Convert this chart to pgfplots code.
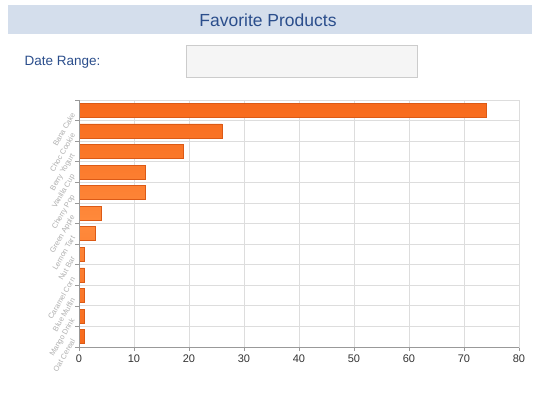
\documentclass[border=0pt]{standalone}
\usepackage{pgfplots}
\pgfplotsset{compat=1.18}
\usepackage{fontspec}
\setmainfont{Liberation Sans}
\definecolor{banner}{HTML}{D4DEEC}
\definecolor{titleblue}{HTML}{2B4E8C}
\definecolor{boxfill}{HTML}{F5F5F5}
\definecolor{boxdraw}{HTML}{CCCCCC}
\definecolor{barfill}{HTML}{F76A1C}
\definecolor{barlight}{HTML}{FF8A3C}
\definecolor{baredge}{HTML}{DC5A16}
\definecolor{gridc}{HTML}{DDDDDD}
\definecolor{axisc}{HTML}{999999}
\definecolor{lblgray}{HTML}{B0B0B0}
\begin{document}
\begin{tikzpicture}[x=1pt,y=1pt]
\path[fill=white] (0,0) rectangle (538,-392);
\fill[banner] (8,-5) rectangle (532,-34);
\node[text=titleblue,font=\fontsize{17.5}{20}\selectfont] at (268,-20) {Favorite Products};
\node[anchor=west,text=titleblue,font=\fontsize{13.5}{15}\selectfont] at (21,-62) {Date Range:};
\draw[fill=boxfill,draw=boxdraw] (186.5,-45.5) rectangle (417.5,-77.5);
\begin{axis}[
  at={(79pt,-347pt)}, anchor=south west,
  scale only axis, width=440pt, height=247pt,
  xbar, bar width=14pt,
  xmin=0, xmax=80, ymin=-0.5, ymax=11.5,
  y dir=reverse,
  xtick={0,10,...,80},
  ytick={0,...,11},
  xtick pos=bottom, ytick pos=left,
  yticklabels={Bana Cake, Choc Cookie, Berry Yogurt, Vanilla Cup, Cherry Pop, Green Apple, Lemon Tart, Nut Bar, Caramel Corn, Blue Muffin, Mango Drink, Oat Cereal},
  yticklabel style={rotate=60, anchor=east, text=lblgray, font=\fontsize{7.5}{8}\selectfont},
  major y tick style={draw=none},
  minor ytick={-0.5,0.5,...,11.5},
  yminorgrids=true, xmajorgrids=true,
  grid style={gridc, line width=0.8pt},
  minor grid style={gridc, line width=0.8pt},
  axis line style={gridc, line width=0.8pt},
  tick align=outside,
  major tick length=4pt, minor tick length=4pt,
  every tick/.style={axisc, line width=0.6pt},
  xticklabel style={text=black!80, font=\fontsize{11}{12}\selectfont},
  /pgf/number format/assume math mode=true,
  clip=false,
]
\addplot[draw=baredge, line width=0.7pt, top color=barfill, bottom color=barfill, middle color=barlight] coordinates {
(74,0) (26,1) (19,2) (12,3) (12,4) (4,5) (3,6) (1,7) (1,8) (1,9) (1,10) (1,11)
};
\end{axis}
\draw[axisc, line width=0.8pt] (79,-100) -- (79,-347) -- (519,-347);
\end{tikzpicture}
\end{document}
